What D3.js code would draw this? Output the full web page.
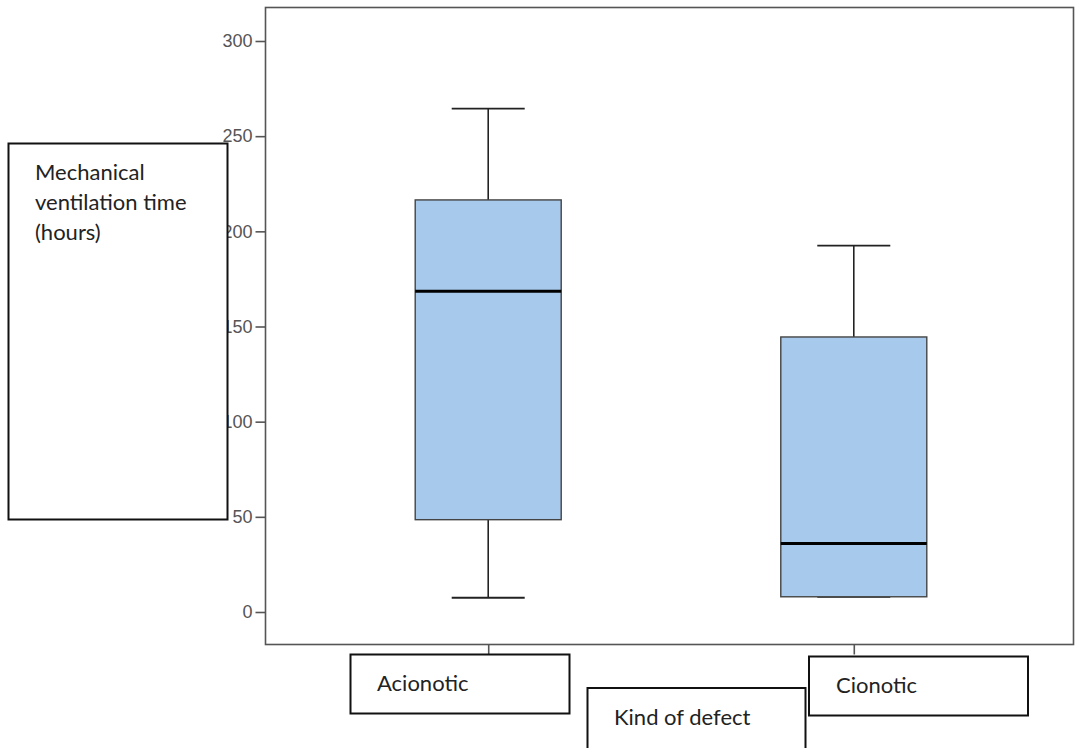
<!DOCTYPE html>
<html>
<head>
<meta charset="utf-8">
<script src="https://cdn.jsdelivr.net/npm/d3@7"></script>
<style>
  body { margin: 0; background: #fff; }
  svg { display: block; }
</style>
</head>
<body>
<div id="chart"></div>
<script>
const width = 1077, height = 748;

// data
const categories = ["Acionotic", "Cionotic"];
const whiskerLow = [7.5, 8];
const q1 = [48.5, 8];
const median = [168.5, 36];
const q3 = [216.5, 144.5];
const whiskerHigh = [264.5, 192.5];
const yTicks = [0, 50, 100, 150, 200, 250, 300];
const yLabelLines = ["Mechanical", "ventilation time", "(hours)"];
const xTitle = "Kind of defect";

const frame = {left: 265.5, top: 7.5, right: 1073.5, bottom: 644.5};

const svg = d3.select("#chart").append("svg")
    .attr("width", width)
    .attr("height", height);

const x = d3.scalePoint()
    .domain(categories)
    .range([frame.left + 3, frame.right])
    .padding(0.601);

const y = d3.scaleLinear()
    .domain([0, 300])
    .range([612, 41]);

const boxW = 146, capW = 73;

// frame
svg.append("rect")
    .attr("x", frame.left).attr("y", frame.top)
    .attr("width", frame.right - frame.left)
    .attr("height", frame.bottom - frame.top)
    .attr("fill", "none")
    .attr("stroke", "#555")
    .attr("stroke-width", 1.6);

// y axis
const yAxis = d3.axisLeft(y).tickValues(yTicks).tickSize(10).tickPadding(3);
const gy = svg.append("g")
    .attr("transform", `translate(${frame.left},0)`)
    .call(yAxis);
gy.select(".domain").remove();
gy.selectAll("line").attr("stroke", "#555").attr("stroke-width", 1.6);
gy.selectAll("text")
    .attr("fill", "#555")
    .style("font-family", "'Liberation Sans', Arial, sans-serif")
    .style("font-size", "18px");

// x axis ticks
const xAxis = d3.axisBottom(x).tickSize(10).tickFormat("");
const gx = svg.append("g")
    .attr("transform", `translate(0,${frame.bottom})`)
    .call(xAxis);
gx.select(".domain").remove();
gx.selectAll("line").attr("stroke", "#555").attr("stroke-width", 1.6);

// boxes
const data = categories.map((c, i) => ({
  cat: c, lo: whiskerLow[i], q1: q1[i], med: median[i], q3: q3[i], hi: whiskerHigh[i]
}));

const g = svg.selectAll(".box").data(data).enter().append("g").attr("class", "box");

g.append("line")
    .attr("x1", d => x(d.cat)).attr("x2", d => x(d.cat))
    .attr("y1", d => y(d.hi)).attr("y2", d => y(d.q3))
    .attr("stroke", "#222").attr("stroke-width", 1.6);
g.append("line")
    .attr("x1", d => x(d.cat)).attr("x2", d => x(d.cat))
    .attr("y1", d => y(d.q1)).attr("y2", d => y(d.lo))
    .attr("stroke", "#222").attr("stroke-width", 1.6);
g.append("line")
    .attr("x1", d => x(d.cat) - capW / 2).attr("x2", d => x(d.cat) + capW / 2)
    .attr("y1", d => y(d.hi)).attr("y2", d => y(d.hi))
    .attr("stroke", "#222").attr("stroke-width", 1.8);
g.append("line")
    .attr("x1", d => x(d.cat) - capW / 2).attr("x2", d => x(d.cat) + capW / 2)
    .attr("y1", d => y(d.lo)).attr("y2", d => y(d.lo))
    .attr("stroke", "#222").attr("stroke-width", 1.8);
g.append("rect")
    .attr("x", d => x(d.cat) - boxW / 2)
    .attr("y", d => y(d.q3))
    .attr("width", boxW)
    .attr("height", d => y(d.q1) - y(d.q3))
    .attr("fill", "#a7c9ec")
    .attr("stroke", "#444")
    .attr("stroke-width", 1.4);
g.append("line")
    .attr("x1", d => x(d.cat) - boxW / 2).attr("x2", d => x(d.cat) + boxW / 2)
    .attr("y1", d => y(d.med)).attr("y2", d => y(d.med))
    .attr("stroke", "#000").attr("stroke-width", 3);

// white label boxes pasted over the chart
const font = "Lato, 'Open Sans', sans-serif";
function labelBox(bx, by, bw, bh, lines, tx, ty, lh) {
  svg.append("rect")
      .attr("x", bx).attr("y", by).attr("width", bw).attr("height", bh)
      .attr("fill", "#fff").attr("stroke", "#111").attr("stroke-width", 2);
  const t = svg.append("text")
      .attr("x", tx).attr("y", ty)
      .attr("fill", "#222")
      .style("font-family", font)
      .style("font-size", "22px");
  lines.forEach((l, i) => {
    t.append("tspan").attr("x", tx).attr("y", ty + i * lh).text(l);
  });
}

labelBox(8.5, 143.5, 219, 376, yLabelLines, 35, 180, 30);
labelBox(350.5, 654.5, 219, 59, [categories[0]], 377, 691, 0);
labelBox(587.5, 688, 218, 62, [xTitle], 614, 725, 0);
labelBox(809, 656.5, 219, 59, [categories[1]], 836, 693, 0);
</script>
</body>
</html>
